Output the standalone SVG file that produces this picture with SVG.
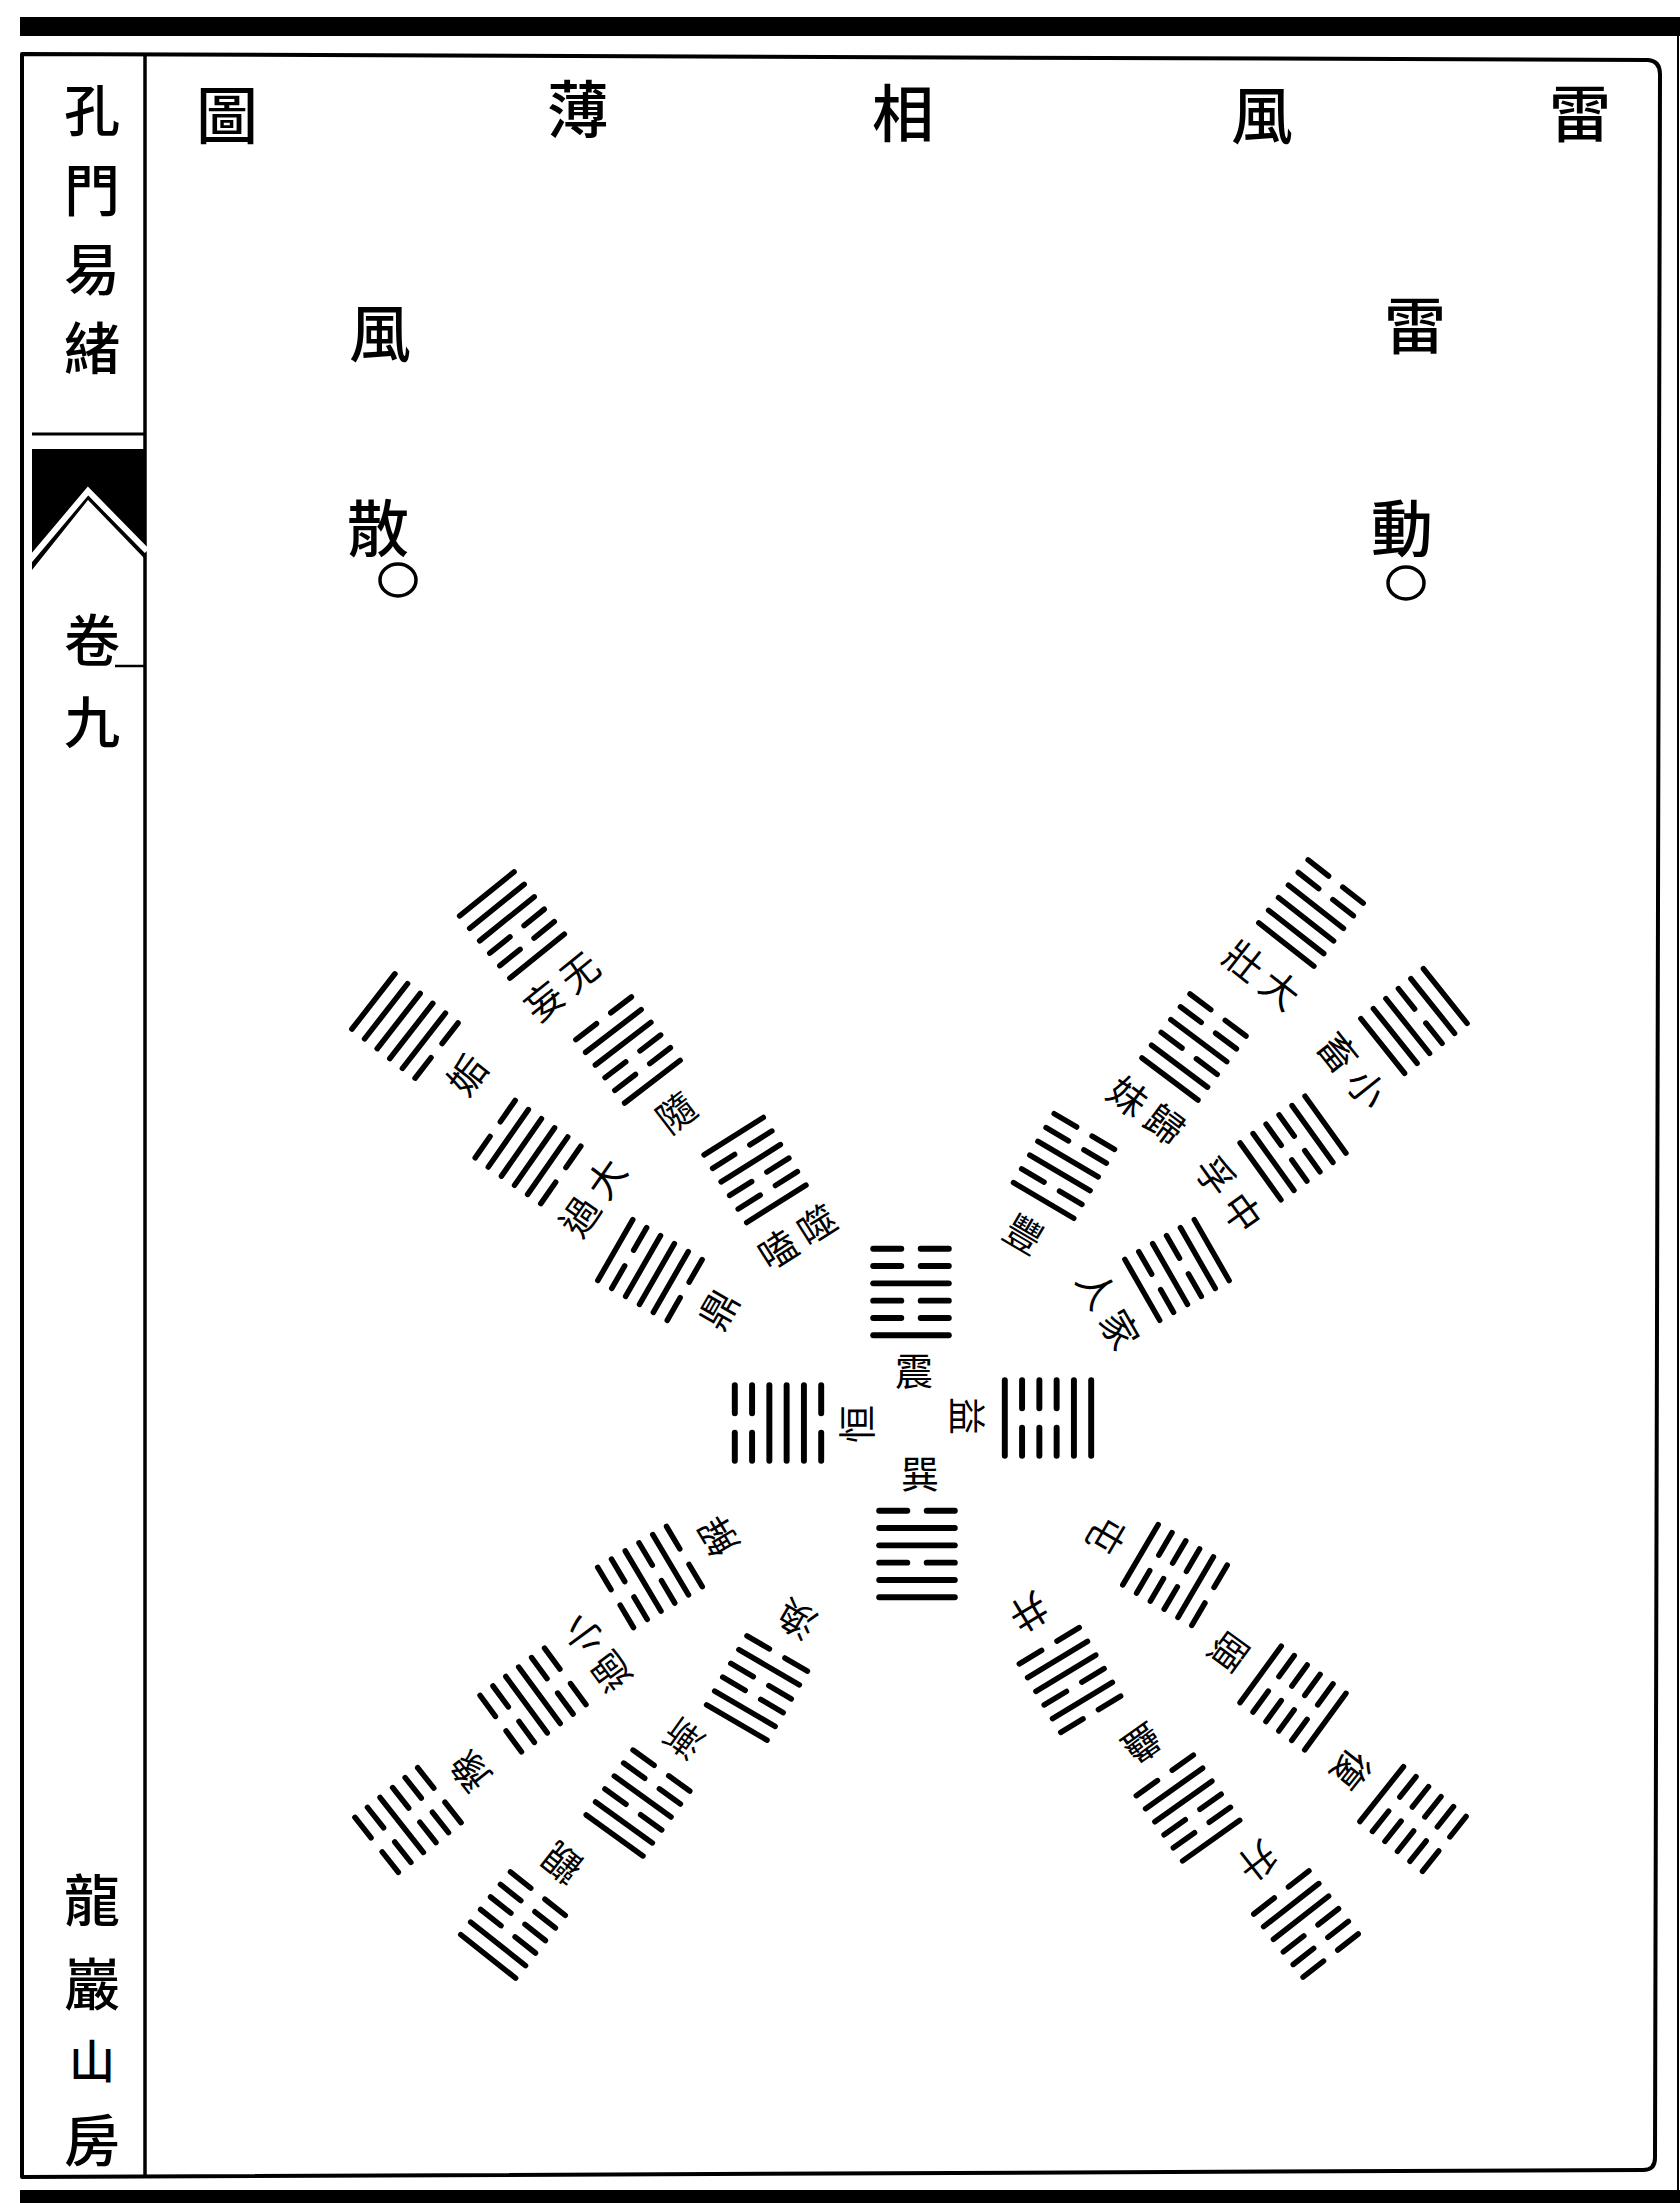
<svg xmlns="http://www.w3.org/2000/svg" xmlns:xlink="http://www.w3.org/1999/xlink" width="1680" height="2203" viewBox="0 0 1680 2203">
<style>
.ln{stroke:#000;stroke-width:5.5;stroke-linecap:round;fill:none}
.fr{stroke:#000;fill:none;stroke-linejoin:round}
.t{font-family:"Noto Sans CJK TC","Noto Sans CJK SC",sans-serif;text-anchor:middle;dominant-baseline:central;fill:#000}
.big{font-size:62px;font-weight:500}
.col{font-size:56px;font-weight:500}
.lb{font-size:38px;font-weight:400}
</style>
<defs>
<path id="yang" class="ln" d="M-35 0H35"/>
<path id="yin" class="ln" d="M-35 0H-9M9 0H35"/>
<g id="qian"><use href="#yang" y="16"/><use href="#yang" y="0"/><use href="#yang" y="-16"/></g>
<g id="dui"><use href="#yang" y="16"/><use href="#yang" y="0"/><use href="#yin" y="-16"/></g>
<g id="li"><use href="#yang" y="16"/><use href="#yin" y="0"/><use href="#yang" y="-16"/></g>
<g id="zhen"><use href="#yang" y="16"/><use href="#yin" y="0"/><use href="#yin" y="-16"/></g>
<g id="xun"><use href="#yin" y="16"/><use href="#yang" y="0"/><use href="#yang" y="-16"/></g>
<g id="kan"><use href="#yin" y="16"/><use href="#yang" y="0"/><use href="#yin" y="-16"/></g>
<g id="gen"><use href="#yin" y="16"/><use href="#yin" y="0"/><use href="#yang" y="-16"/></g>
<g id="kun"><use href="#yin" y="16"/><use href="#yin" y="0"/><use href="#yin" y="-16"/></g>
</defs>
<rect width="1680" height="2203" fill="#fff"/>

<g id="frame">
<rect x="20" y="17" width="1660" height="19" fill="#000"/>
<rect x="20" y="2190" width="1660" height="13" fill="#000"/>
<path class="fr" stroke-width="4" d="M22 54 L1648 60 Q1660 61 1660 74 L1655 2158 Q1655 2170 1643 2170 L22 2177 Z"/>
<line x1="145" y1="54" x2="145" y2="2177" stroke="#000" stroke-width="3.5"/>
<line x1="1678" y1="36" x2="1678" y2="2190" stroke="#000" stroke-width="2"/>
</g>

<g id="margin">
<text class="t col" x="92" y="106">孔</text>
<text class="t col" x="92" y="186">門</text>
<text class="t col" x="92" y="265">易</text>
<text class="t col" x="92" y="344">緒</text>
<line x1="32" y1="434" x2="144" y2="434" stroke="#000" stroke-width="3"/>
<polygon points="32,449 144,449 144,558 88,500 32,570" fill="#000"/>
<polyline points="29,561 88,491 147,551" stroke="#fff" stroke-width="6" fill="none"/>
<text class="t col" x="92" y="636">卷</text>
<line x1="115" y1="666" x2="145" y2="666" stroke="#000" stroke-width="2.5"/>
<text class="t col" x="92" y="718">九</text>
<text class="t col" x="92" y="1896">龍</text>
<text class="t col" x="92" y="1980">巖</text>
<text class="t" style="font-size:46px;font-weight:500" x="92" y="2058">山</text>
<text class="t col" x="92" y="2136">房</text>
</g>

<g id="title">
<text class="t big" x="1580" y="110">雷</text>
<text class="t big" x="1262" y="112">風</text>
<text class="t big" x="903" y="110">相</text>
<text class="t big" x="578" y="106">薄</text>
<text class="t big" x="227" y="112">圖</text>
</g>

<g id="wind-scatter">
<text class="t big" x="380" y="330">風</text>
<text class="t big" x="378" y="525">散</text>
<ellipse cx="398" cy="580" rx="18" ry="16" fill="none" stroke="#000" stroke-width="3.5"/>
</g>
<g id="thunder-move">
<text class="t big" x="1415" y="322">雷</text>
<text class="t big" x="1402" y="525">動</text>
<ellipse cx="1406" cy="583" rx="18" ry="16" fill="none" stroke="#000" stroke-width="3.5"/>
</g>

<g id="connectors"></g>

<g id="center">
<g id="hx-zhen" transform="translate(911,1292) scale(1.08)"><use href="#zhen" y="24"/><use href="#zhen" y="-24"/></g>
<g id="hx-xun" transform="translate(917,1554) rotate(180) scale(1.08)"><use href="#xun" y="24"/><use href="#xun" y="-24"/></g>
<g id="hx-heng" transform="translate(778,1423) rotate(-90) scale(1.08)"><use href="#xun" y="24"/><use href="#zhen" y="-24"/></g>
<g id="hx-yi" transform="translate(1048,1418) rotate(90) scale(1.08)"><use href="#zhen" y="24"/><use href="#xun" y="-24"/></g>
<text class="t lb" x="914" y="1368">震</text>
<text class="t lb" x="920" y="1471">巽</text>
<text class="t lb" transform="translate(854,1424) rotate(-90)">恒</text>
<text class="t lb" transform="translate(969,1416) rotate(90)">益</text>
</g>

<g id="upper-right">
<g id="hx-feng" transform="translate(1064,1166) rotate(30.6)"><use href="#li" y="24"/><use href="#zhen" y="-24"/><text class="t lb" x="0" y="77">豐</text></g>
<g id="hx-guimei" transform="translate(1194,1047) rotate(36.9)"><use href="#dui" y="24"/><use href="#zhen" y="-24"/><text class="t lb" x="23" y="77">歸</text><text class="t lb" x="-23" y="77">妹</text></g>
<g id="hx-dazhuang" transform="translate(1311,913) rotate(38.1)"><use href="#qian" y="24"/><use href="#zhen" y="-24"/><text class="t lb" x="23" y="77">大</text><text class="t lb" x="-23" y="77">壯</text></g>
<g id="hx-jiaren" transform="translate(1177,1270) rotate(60.2)"><use href="#li" y="24"/><use href="#xun" y="-24"/><text class="t lb" x="23" y="77">家</text><text class="t lb" x="-23" y="77">人</text></g>
<g id="hx-zhongfu" transform="translate(1293,1148) rotate(54.3)"><use href="#dui" y="24"/><use href="#xun" y="-24"/><text class="t lb" x="23" y="77">中</text><text class="t lb" x="-23" y="77">孚</text></g>
<g id="hx-xiaoxu" transform="translate(1414,1021) rotate(51.4)"><use href="#qian" y="24"/><use href="#xun" y="-24"/><text class="t lb" x="23" y="77">小</text><text class="t lb" x="-23" y="77">畜</text></g>
</g>

<g id="upper-left">
<g id="hx-shike" transform="translate(755,1170) rotate(-32.2)"><use href="#zhen" y="24"/><use href="#li" y="-24"/><text class="t lb" x="23" y="77">噬</text><text class="t lb" x="-23" y="77">嗑</text></g>
<g id="hx-sui" transform="translate(628,1050) rotate(-37.5)"><use href="#zhen" y="24"/><use href="#dui" y="-24"/><text class="t lb" x="0" y="77">隨</text></g>
<g id="hx-wuwang" transform="translate(512,925) rotate(-38.9)"><use href="#zhen" y="24"/><use href="#qian" y="-24"/><text class="t lb" x="23" y="77">无</text><text class="t lb" x="-23" y="77">妄</text></g>
<g id="hx-ding" transform="translate(650,1270) rotate(-60.1)"><use href="#xun" y="24"/><use href="#li" y="-24"/><text class="t lb" x="0" y="77">鼎</text></g>
<g id="hx-daguo" transform="translate(528,1152) rotate(-55.1)"><use href="#xun" y="24"/><use href="#dui" y="-24"/><text class="t lb" x="23" y="77">大</text><text class="t lb" x="-23" y="77">過</text></g>
<g id="hx-gou" transform="translate(405,1026) rotate(-52.1)"><use href="#xun" y="24"/><use href="#qian" y="-24"/><text class="t lb" x="0" y="77">姤</text></g>
</g>

<g id="lower-right">
<g id="hx-zhun" transform="translate(1175,1575) rotate(120.4)"><use href="#zhen" y="24"/><use href="#kan" y="-24"/><text class="t lb" x="0" y="77">屯</text></g>
<g id="hx-yi2" transform="translate(1293,1698) rotate(126.1)"><use href="#zhen" y="24"/><use href="#gen" y="-24"/><text class="t lb" x="0" y="77">頤</text></g>
<g id="hx-fu" transform="translate(1413,1819) rotate(128.5)"><use href="#zhen" y="24"/><use href="#kun" y="-24"/><text class="t lb" x="0" y="77">復</text></g>
<g id="hx-jing" transform="translate(1070,1680) rotate(148.8)"><use href="#xun" y="24"/><use href="#kan" y="-24"/><text class="t lb" x="0" y="77">井</text></g>
<g id="hx-gu" transform="translate(1188,1808) rotate(144.6)"><use href="#xun" y="24"/><use href="#gen" y="-24"/><text class="t lb" x="0" y="77">蠱</text></g>
<g id="hx-sheng" transform="translate(1306,1924) rotate(142)"><use href="#xun" y="24"/><use href="#kun" y="-24"/><text class="t lb" x="0" y="77">升</text></g>
</g>

<g id="lower-left">
<g id="hx-jie" transform="translate(650,1577) rotate(-120.7)"><use href="#kan" y="24"/><use href="#zhen" y="-24"/><text class="t lb" x="0" y="77">解</text></g>
<g id="hx-xiaoguo" transform="translate(533,1700) rotate(-126.3)"><use href="#gen" y="24"/><use href="#zhen" y="-24"/><text class="t lb" x="23" y="77">小</text><text class="t lb" x="-23" y="77">過</text></g>
<g id="hx-yu" transform="translate(408,1820) rotate(-128.3)"><use href="#kun" y="24"/><use href="#zhen" y="-24"/><text class="t lb" x="0" y="77">豫</text></g>
<g id="hx-huan" transform="translate(757,1688) rotate(-149.7)"><use href="#kan" y="24"/><use href="#xun" y="-24"/><text class="t lb" x="0" y="77">渙</text></g>
<g id="hx-jian" transform="translate(638,1803) rotate(-144.2)"><use href="#gen" y="24"/><use href="#xun" y="-24"/><text class="t lb" x="0" y="77">漸</text></g>
<g id="hx-guan" transform="translate(513,1925) rotate(-141.6)"><use href="#kun" y="24"/><use href="#xun" y="-24"/><text class="t lb" x="0" y="77">觀</text></g>
</g>
</svg>
